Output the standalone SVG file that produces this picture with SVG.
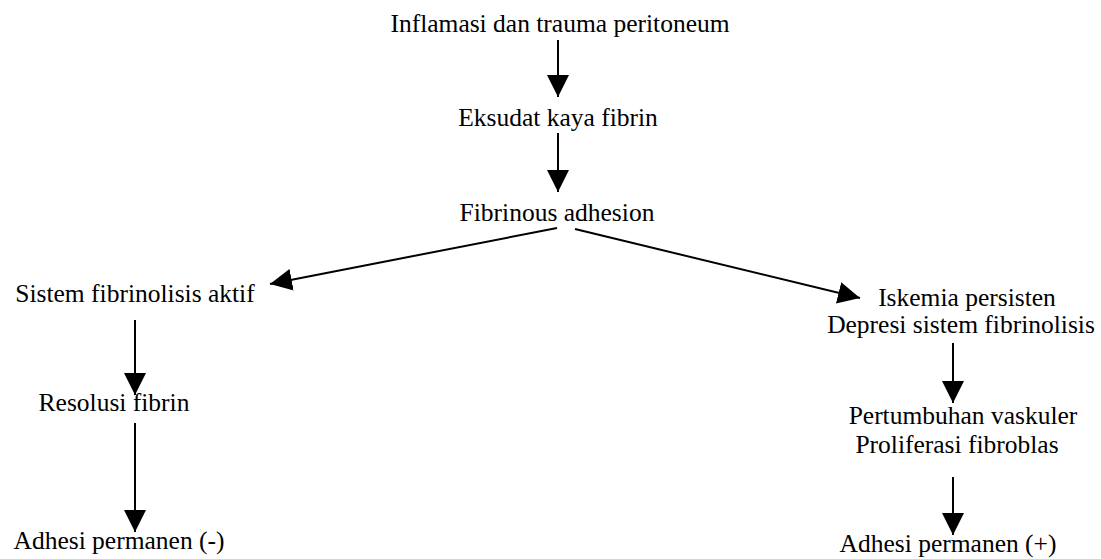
<svg xmlns="http://www.w3.org/2000/svg" width="1101" height="559" viewBox="0 0 1101 559">
<style>
text{font-family:"Liberation Serif","Times New Roman",serif;font-size:25.5px;fill:#000;text-anchor:middle}
.c line{stroke:#000;stroke-width:2;marker-end:url(#ah)}
</style>
<defs>
<marker id="ah" viewBox="0 0 22 22" markerWidth="22" markerHeight="22" refX="22" refY="11" orient="auto" markerUnits="userSpaceOnUse">
<path d="M0,0 L22,11 L0,22 z" fill="#000"/>
</marker>
</defs>
<rect width="1101" height="559" fill="#fff"/>
<g id="n1"><text x="560" y="32">Inflamasi dan trauma peritoneum</text></g>
<g id="n2"><text x="558" y="126">Eksudat kaya fibrin</text></g>
<g id="n3"><text x="557" y="221">Fibrinous adhesion</text></g>
<g id="n4"><text x="135" y="302">Sistem fibrinolisis aktif</text></g>
<g id="n5"><text x="114" y="411">Resolusi fibrin</text></g>
<g id="n6"><text x="119" y="549">Adhesi permanen (-)</text></g>
<g id="n7"><text x="967" y="306">Iskemia persisten</text><text x="961" y="333">Depresi sistem fibrinolisis</text></g>
<g id="n8"><text x="963" y="424">Pertumbuhan vaskuler</text><text x="957" y="453">Proliferasi fibroblas</text></g>
<g id="n9"><text x="948" y="552">Adhesi permanen (+)</text></g>
<g id="connectors" class="c">
<line x1="558" y1="40" x2="558" y2="97"/>
<line x1="558" y1="133" x2="558" y2="192"/>
<line x1="557" y1="228" x2="270" y2="284"/>
<line x1="575" y1="229" x2="860" y2="298"/>
<line x1="135" y1="320" x2="135" y2="395"/>
<line x1="135" y1="423" x2="135" y2="532"/>
<line x1="953" y1="343" x2="953" y2="403"/>
<line x1="953" y1="477" x2="953" y2="535"/>
</g>
</svg>
